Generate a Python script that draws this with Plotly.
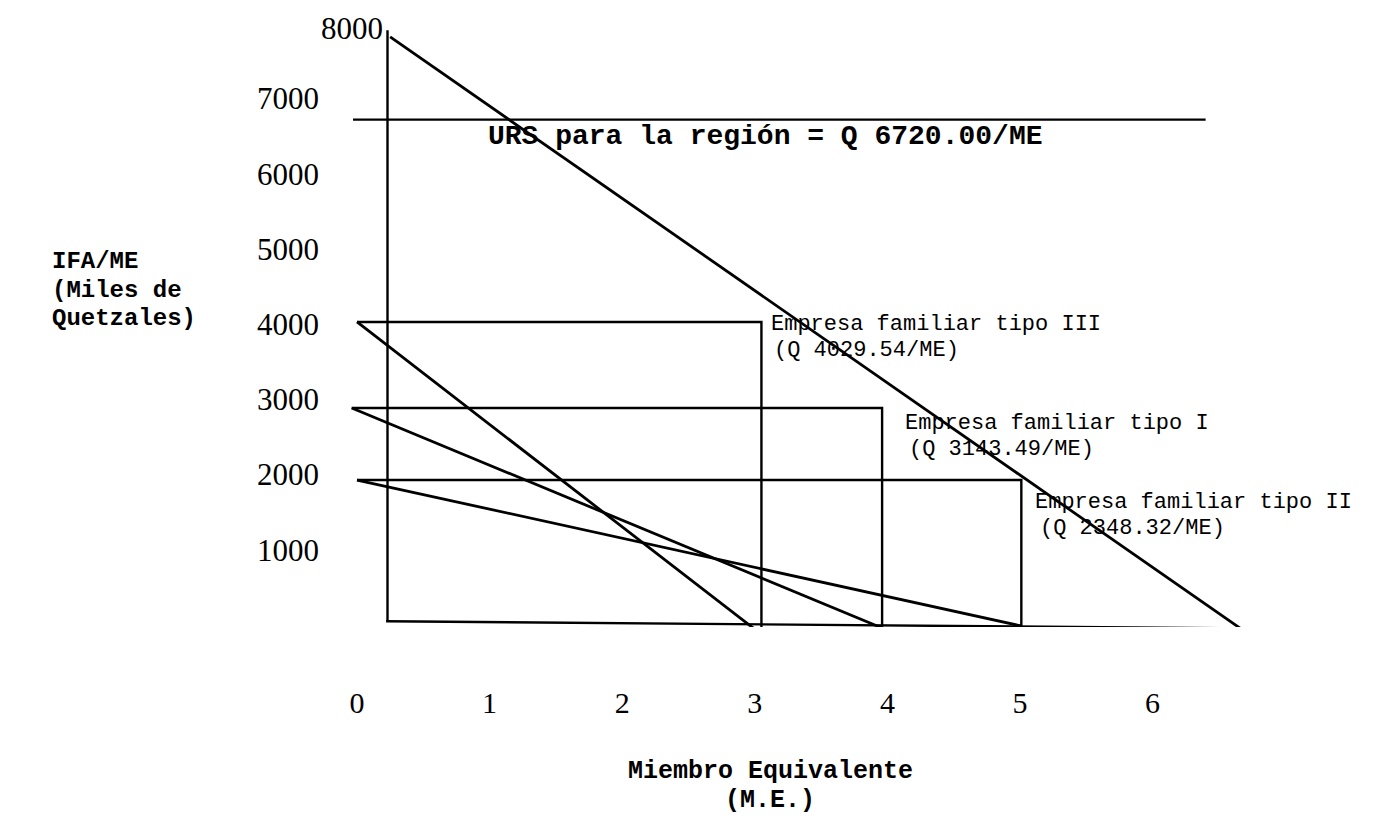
import plotly.graph_objects as go

# ---------------- data ----------------
x_tick_vals = [0, 1, 2, 3, 4, 5, 6]
x_tick_text = ["0", "1", "2", "3", "4", "5", "6"]
y_tick_vals = [1000, 2000, 3000, 4000, 5000, 6000, 7000]
y_tick_text = ["1000", "2000", "3000", "4000", "5000", "6000", "7000"]
y_top_tick_vals = [8000]
y_top_tick_text = ["8000"]

# regional line (URS)
urs_value = 6720.00
urs_x = [-0.03, 6.40]

# big (regional) triangle: vertical side, diagonal, base
region_vert_x = [0.23, 0.23]
region_vert_y = [7910, 40]
region_diag_x = [0.25, 6.67]
region_diag_y = [7820, -55]
region_base_x = [0.22, 6.67]
region_base_y = [50, -45]

# family enterprises (tipo III, tipo I, tipo II)
firm_names = ["Empresa familiar tipo III", "Empresa familiar tipo I", "Empresa familiar tipo II"]
firm_ifa_text = ["(Q 4029.54/ME)", "(Q 3143.49/ME)", "(Q 2348.32/ME)"]
firm_left = [0.0, -0.04, 0.0]
firm_right = [3.05, 3.96, 5.01]
firm_top = [4029.54, 2886, 1928]
firm_vert_bottom = [-30, -40, -13]
firm_diag_end = [-125, -40, -13]

# ---------------- layout constants ----------------
OFF = 8                         # page body offset of the figure
W, H = 1377 - 2 * OFF, 827 - 2 * OFF
PX0, PXU = 357 - OFF, 132.6     # figure pixel of x=0, pixels per unit
PY0, PYU = 625 - OFF, 0.0752    # figure pixel of y=0, pixels per unit of y
ML, MT = 322, 2
PLOT_R, PLOT_B = 1292, 619
MR, MB = W - PLOT_R, H - PLOT_B
plot_w = PLOT_R - ML
plot_h = PLOT_B - MT
x_range = [(ML - PX0) / PXU, (PLOT_R - PX0) / PXU]
y_range = [(PY0 - PLOT_B) / PYU, (PY0 - MT) / PYU]


def paper_x(screen_x):
    return (screen_x - OFF - ML) / plot_w


def paper_y(screen_y):
    return (PLOT_B - (screen_y - OFF)) / plot_h


LINE = dict(color="black", width=2.4)
SERIF = "Liberation Serif, Times New Roman, serif"
MONO = "Liberation Mono, Courier New, monospace"

fig = go.Figure()


def seg(xs, ys, width=None):
    ln = dict(LINE)
    if width:
        ln["width"] = width
    fig.add_trace(go.Scatter(x=xs, y=ys, mode="lines", line=ln,
                             showlegend=False, hoverinfo="skip"))


# URS horizontal line
seg(urs_x, [urs_value, urs_value])
# region triangle
seg(region_vert_x, region_vert_y)
seg(region_diag_x, region_diag_y, 2.8)
seg(region_base_x, region_base_y)

# firm rectangles + diagonals
for i in range(len(firm_names)):
    seg([firm_left[i], firm_right[i], firm_right[i]],
        [firm_top[i], firm_top[i], firm_vert_bottom[i]])
    seg([firm_left[i], firm_right[i]], [firm_top[i], firm_diag_end[i]], 2.8)

annotations = []
# top tick label (drawn beside the vertical side, as in the original)
annotations.append(dict(x=region_vert_x[0], y=y_top_tick_vals[0], xref="x", yref="y",
                        text=y_top_tick_text[0], showarrow=False,
                        xanchor="right", yanchor="middle", xshift=-3, yshift=-5,
                        font=dict(family=SERIF, size=31, color="black")))
# URS label
annotations.append(dict(x=0.973, y=urs_value, xref="x", yref="y",
                        text="<b>URS para la región = Q 6720.00/ME</b>",
                        showarrow=False, xanchor="left", yanchor="middle",
                        yshift=-17, font=dict(family=MONO, size=28, color="black")))
# firm labels (two lines each)
name_xshift = [8, 21, 12]
name_yshift = [-3, -16, -22]
ifa_xshift = [11, 25, 17]
ifa_yshift = [-29, -42, -48]
for i in range(len(firm_names)):
    annotations.append(dict(x=firm_right[i], y=firm_top[i], xref="x", yref="y",
                            text=firm_names[i], showarrow=False,
                            xanchor="left", yanchor="middle",
                            xshift=name_xshift[i], yshift=name_yshift[i],
                            font=dict(family=MONO, size=22, color="black")))
    annotations.append(dict(x=firm_right[i], y=firm_top[i], xref="x", yref="y",
                            text=firm_ifa_text[i], showarrow=False,
                            xanchor="left", yanchor="middle",
                            xshift=ifa_xshift[i], yshift=ifa_yshift[i],
                            font=dict(family=MONO, size=22, color="black")))

# y-axis title (left-aligned block, one annotation per line)
for txt, sy in [("IFA/ME", 262), ("(Miles de", 290), ("Quetzales)", 318)]:
    annotations.append(dict(x=paper_x(50), y=paper_y(sy), xref="paper", yref="paper",
                            text="<b>" + txt + "</b>", showarrow=False,
                            xanchor="left", yanchor="middle",
                            font=dict(family=MONO, size=24, color="black")))
# x-axis title
for txt, sy in [("Miembro Equivalente", 771), ("(M.E.)", 800)]:
    annotations.append(dict(x=paper_x(770), y=paper_y(sy), xref="paper", yref="paper",
                            text="<b>" + txt + "</b>", showarrow=False,
                            xanchor="center", yanchor="middle",
                            font=dict(family=MONO, size=25, color="black")))

fig.update_layout(
    width=W, height=H,
    margin=dict(l=ML, r=MR, t=MT, b=MB, autoexpand=False),
    paper_bgcolor="white", plot_bgcolor="white",
    showlegend=False,
    annotations=annotations,
    xaxis=dict(range=x_range, showgrid=False, zeroline=False, showline=False,
               tickmode="array", tickvals=x_tick_vals, ticktext=x_tick_text,
               ticks="", ticklabelstandoff=55,
               tickfont=dict(family=SERIF, size=30, color="black"), fixedrange=True),
    yaxis=dict(range=y_range, showgrid=False, zeroline=False, showline=False,
               tickmode="array", tickvals=y_tick_vals, ticktext=y_tick_text,
               ticks="", ticklabelstandoff=10,
               tickfont=dict(family=SERIF, size=31, color="black"), fixedrange=True),
)

fig.write_html("out.html")
